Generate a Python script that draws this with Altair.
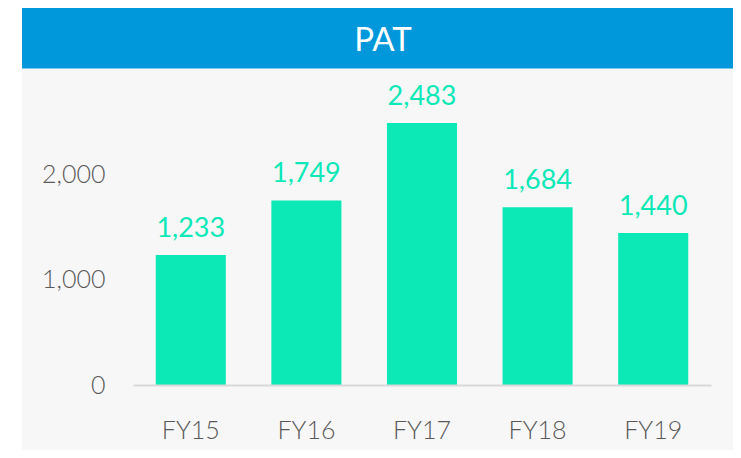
import altair as alt
import pandas as pd

years = ["FY15", "FY16", "FY17", "FY18", "FY19"]
pat = [1233, 1749, 2483, 1684, 1440]
title_text = ["PAT"]

df = pd.DataFrame({"year": years, "pat": pat})
FONT = "Lato"
W, H = 578, 316.5

bg = alt.Chart(pd.DataFrame({"a": [0]})).mark_rect(color="#f7f7f7", clip=False).encode(
    x=alt.value(-111), x2=alt.value(600), y=alt.value(0), y2=alt.value(H + 65)
)
band = alt.Chart(pd.DataFrame({"a": [0]})).mark_rect(color="#0098da", clip=False).encode(
    x=alt.value(-111), x2=alt.value(600), y=alt.value(-60.5), y2=alt.value(0)
)
ttl = alt.Chart(pd.DataFrame({"t": title_text})).mark_text(
    color="white", font=FONT, fontSize=33, baseline="middle", align="center", clip=False
).encode(x=alt.value(250), y=alt.value(-28), text="t:N")

xenc = alt.X("year:N", sort=years, scale=alt.Scale(paddingInner=0.394, paddingOuter=0.197),
             axis=alt.Axis(title=None, labelAngle=0, ticks=False, domainColor="#d9d9d9",
                           domainWidth=2, labelFont=FONT, labelFontSize=25, zindex=1,
                           labelFontWeight=300,
                           labelColor="#595959", labelPadding=33))
yenc = alt.Y("pat:Q", scale=alt.Scale(domain=[0, 3000], nice=False),
             axis=alt.Axis(title=None, values=[0, 1000, 2000], grid=False, domain=False,
                           ticks=False, format=",.0f", labelFont=FONT, labelFontSize=25, zindex=1,
                           labelFontWeight=300,
                           labelColor="#595959", labelPadding=28))

bars = alt.Chart(df).mark_bar(color="#0de8b7").encode(x=xenc, y=yenc)
labels = alt.Chart(df).mark_text(color="#0de8b7", font=FONT, fontSize=27,
                                 baseline="bottom", dy=-12).encode(
    x=alt.X("year:N", sort=years), y="pat:Q", text=alt.Text("pat:Q", format=",")
)

chart = alt.layer(bg, band, ttl, bars, labels).properties(
    width=W, height=H, autosize=alt.AutoSizeParams(type="none"),
    padding={"left": 125, "top": 60.5, "right": 22, "bottom": 65},
    background="white"
).configure_view(stroke=None)

chart.save("out.html", embed_options={"renderer": "svg", "actions": False})
